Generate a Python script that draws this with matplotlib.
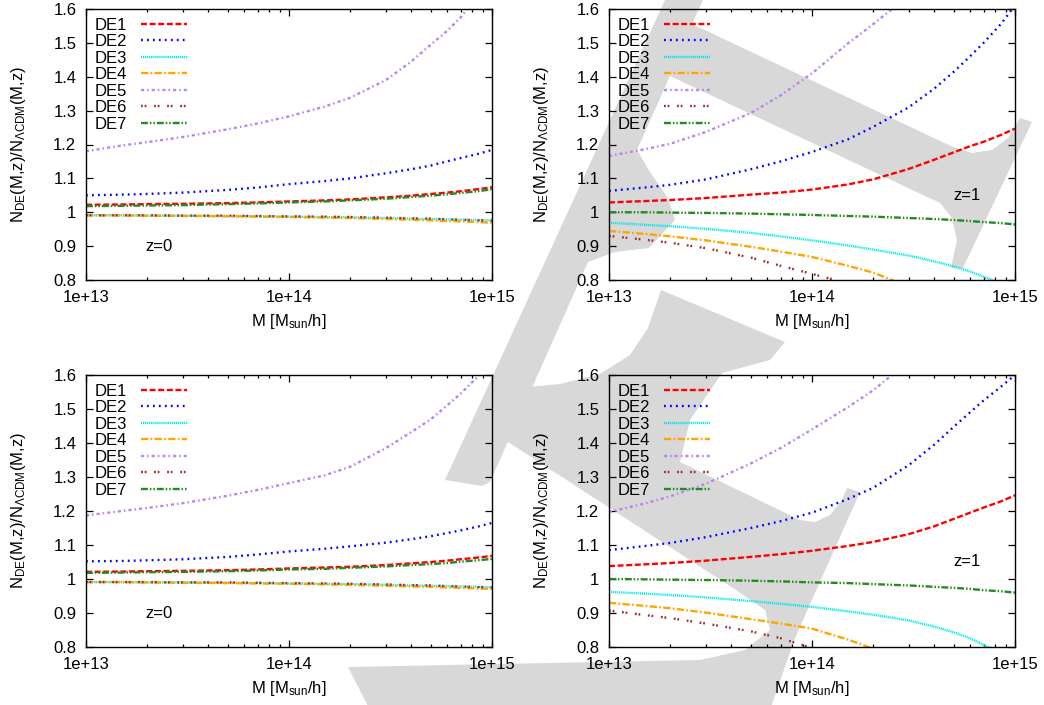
import matplotlib.pyplot as plt
from matplotlib.patches import Polygon
from matplotlib.ticker import LogLocator, NullFormatter

plt.rcParams['font.family'] = ['Liberation Sans', 'DejaVu Sans']
plt.rcParams['mathtext.fontset'] = 'custom'
plt.rcParams['mathtext.rm'] = 'Liberation Sans'
plt.rcParams['mathtext.it'] = 'Liberation Sans:italic'
plt.rcParams['lines.scale_dashes'] = False

# halo mass grid [M_sun/h]
mass = [1e13, 1.5e13, 2e13, 3e13, 5e13, 7e13, 1e14, 1.5e14, 2e14, 3e14,
        4e14, 5e14, 6e14, 7e14, 8.5e14, 1e15]
names = ['DE1', 'DE2', 'DE3', 'DE4', 'DE5', 'DE6', 'DE7']

# N_DE / N_LCDM at z=0 (upper panel), rows DE1..DE7
ratio_z0_a = [
    [1.022, 1.023, 1.024, 1.025, 1.027, 1.029, 1.032, 1.035, 1.038, 1.044, 1.049, 1.054, 1.058, 1.062, 1.068, 1.074],
    [1.050, 1.052, 1.054, 1.058, 1.066, 1.073, 1.083, 1.092, 1.100, 1.115, 1.127, 1.138, 1.150, 1.160, 1.172, 1.184],
    [0.991, 0.991, 0.990, 0.990, 0.989, 0.988, 0.987, 0.986, 0.985, 0.983, 0.981, 0.980, 0.979, 0.978, 0.977, 0.976],
    [0.991, 0.991, 0.990, 0.989, 0.988, 0.987, 0.986, 0.984, 0.983, 0.980, 0.978, 0.976, 0.974, 0.973, 0.971, 0.969],
    [1.180, 1.197, 1.207, 1.222, 1.245, 1.262, 1.283, 1.312, 1.338, 1.390, 1.445, 1.495, 1.535, 1.575, 1.640, 1.700],
    [0.991, 0.991, 0.991, 0.990, 0.990, 0.989, 0.988, 0.987, 0.986, 0.984, 0.982, 0.981, 0.979, 0.978, 0.976, 0.975],
    [1.018, 1.019, 1.020, 1.021, 1.024, 1.026, 1.029, 1.032, 1.035, 1.040, 1.045, 1.049, 1.053, 1.057, 1.062, 1.068],
]
# z=1 (upper panel)
ratio_z1_a = [
    [1.029, 1.033, 1.036, 1.042, 1.052, 1.058, 1.067, 1.082, 1.097, 1.128, 1.155, 1.177, 1.195, 1.208, 1.228, 1.247],
    [1.063, 1.073, 1.081, 1.097, 1.127, 1.150, 1.178, 1.215, 1.252, 1.310, 1.365, 1.415, 1.460, 1.500, 1.555, 1.610],
    [0.969, 0.963, 0.959, 0.951, 0.939, 0.929, 0.917, 0.902, 0.890, 0.872, 0.855, 0.840, 0.825, 0.810, 0.790, 0.770],
    [0.945, 0.936, 0.929, 0.917, 0.898, 0.884, 0.868, 0.842, 0.822, 0.780, 0.750, 0.725, 0.700, 0.680, 0.660, 0.640],
    [1.166, 1.186, 1.202, 1.237, 1.293, 1.345, 1.410, 1.498, 1.555, 1.640, 1.710, 1.770, 1.820, 1.860, 1.920, 1.970],
    [0.930, 0.919, 0.910, 0.894, 0.866, 0.842, 0.818, 0.790, 0.770, 0.740, 0.715, 0.695, 0.680, 0.665, 0.650, 0.635],
    [1.000, 1.000, 0.999, 0.998, 0.996, 0.994, 0.992, 0.989, 0.987, 0.983, 0.980, 0.977, 0.974, 0.971, 0.968, 0.964],
]
# z=0 (lower panel)
ratio_z0_b = [
    [1.021, 1.022, 1.023, 1.024, 1.026, 1.028, 1.031, 1.034, 1.036, 1.041, 1.046, 1.050, 1.054, 1.058, 1.063, 1.068],
    [1.052, 1.053, 1.055, 1.058, 1.065, 1.072, 1.081, 1.089, 1.096, 1.107, 1.117, 1.126, 1.135, 1.143, 1.154, 1.165],
    [0.991, 0.991, 0.990, 0.990, 0.989, 0.988, 0.987, 0.986, 0.985, 0.983, 0.981, 0.980, 0.979, 0.978, 0.977, 0.976],
    [0.991, 0.991, 0.990, 0.989, 0.988, 0.987, 0.986, 0.984, 0.983, 0.980, 0.978, 0.977, 0.975, 0.974, 0.972, 0.971],
    [1.187, 1.200, 1.209, 1.223, 1.245, 1.262, 1.282, 1.305, 1.330, 1.385, 1.432, 1.470, 1.510, 1.545, 1.595, 1.640],
    [0.991, 0.991, 0.991, 0.990, 0.990, 0.989, 0.988, 0.987, 0.986, 0.984, 0.982, 0.981, 0.979, 0.978, 0.976, 0.975],
    [1.018, 1.019, 1.020, 1.021, 1.023, 1.025, 1.028, 1.030, 1.033, 1.037, 1.041, 1.044, 1.047, 1.051, 1.055, 1.059],
]
# z=1 (lower panel)
ratio_z1_b = [
    [1.038, 1.043, 1.047, 1.054, 1.065, 1.073, 1.083, 1.097, 1.109, 1.132, 1.155, 1.177, 1.195, 1.210, 1.228, 1.246],
    [1.085, 1.097, 1.106, 1.123, 1.150, 1.170, 1.195, 1.235, 1.268, 1.335, 1.395, 1.448, 1.490, 1.525, 1.565, 1.600],
    [0.962, 0.957, 0.953, 0.946, 0.935, 0.927, 0.918, 0.905, 0.895, 0.878, 0.860, 0.843, 0.826, 0.806, 0.785, 0.765],
    [0.930, 0.921, 0.914, 0.901, 0.882, 0.869, 0.854, 0.822, 0.795, 0.760, 0.735, 0.715, 0.700, 0.685, 0.670, 0.655],
    [1.197, 1.222, 1.243, 1.280, 1.340, 1.385, 1.440, 1.505, 1.555, 1.640, 1.700, 1.750, 1.790, 1.830, 1.880, 1.920],
    [0.907, 0.894, 0.885, 0.869, 0.846, 0.826, 0.797, 0.770, 0.750, 0.720, 0.700, 0.685, 0.670, 0.660, 0.645, 0.630],
    [1.000, 0.999, 0.998, 0.997, 0.995, 0.993, 0.990, 0.988, 0.985, 0.981, 0.977, 0.974, 0.971, 0.967, 0.964, 0.960],
]

xticks = [1e13, 1e14, 1e15]
xtick_labels = ['1e+13', '1e+14', '1e+15']
yticks = [0.8, 0.9, 1.0, 1.1, 1.2, 1.3, 1.4, 1.5, 1.6]
ytick_labels = ['0.8', '0.9', '1', '1.1', '1.2', '1.3', '1.4', '1.5', '1.6']

colors = ['#ff0000', '#0000ff', '#00e8e8', '#ffa500', '#b883f0', '#a52a2a', '#228b22']
dashes = [
    (4.3, 1.9),
    (1.3, 3.0),
    (0.8, 0.6),
    (5.2, 1.7, 1.2, 1.7),
    (2.2, 2.2, 1.1, 2.2),
    (1.3, 1.3, 1.3, 5.5),
    (5.0, 1.4, 1.1, 1.4, 1.1, 1.4),
]

fig = plt.figure(figsize=(10.44, 7.05), dpi=100)

# light grey logo sitting behind the panels (pixel coordinates, y down)
logo = [
    [(665, 0), (703, 0), (692, 24), (953, 147), (972, 153), (992, 150), (1008, 138),
     (1020, 118), (1032, 122), (963, 268), (951, 268), (957, 240), (952, 218),
     (940, 203), (670, 76), (637, 150), (650, 172), (668, 198), (675, 220),
     (649, 248), (615, 252), (588, 262), (490, 482), (482, 486), (445, 480)],
    [(661, 290), (785, 342), (770, 360), (722, 373), (690, 420), (680, 462),
     (800, 520), (815, 522), (830, 515), (842, 500), (847, 488), (860, 492),
     (795, 638), (770, 710), (370, 710), (348, 667), (700, 660), (745, 650),
     (770, 630), (765, 610), (736, 590), (505, 440), (517, 388), (560, 384),
     (600, 374), (630, 355), (648, 328)],
]
bg = fig.add_axes([0, 0, 1, 1], zorder=0)
bg.set_xlim(0, 1044)
bg.set_ylim(705, 0)
bg.axis('off')
for pts in logo:
    bg.add_patch(Polygon(pts, closed=True, fc='#d8d8d8', ec='none'))

panels = [
    (ratio_z0_a, 'z=0', (86, 9, 492, 280), (2.3e13, 0.9)),
    (ratio_z1_a, 'z=1', (609, 9, 1015, 280), (5.8e14, 1.05)),
    (ratio_z0_b, 'z=0', (86, 375, 492, 647), (2.3e13, 0.9)),
    (ratio_z1_b, 'z=1', (609, 375, 1015, 647), (5.8e14, 1.05)),
]

fs = 12
for rows, ztxt, (x0, y0, x1, y1), zpos in panels:
    ax = fig.add_axes([x0 / 1044, 1 - y1 / 705, (x1 - x0) / 1044, (y1 - y0) / 705],
                      zorder=1)
    ax.set_facecolor('none')
    for vals, name, c, d in zip(rows, names, colors, dashes):
        ax.plot(mass, vals, color=c, lw=1.7, dashes=d, label=name)
    ax.set_xscale('log')
    ax.set_xlim(1e13, 1e15)
    ax.set_ylim(0.8, 1.6)
    ax.set_xticks(xticks)
    ax.set_xticklabels(xtick_labels)
    ax.xaxis.set_minor_locator(LogLocator(base=10, subs=range(2, 10)))
    ax.xaxis.set_minor_formatter(NullFormatter())
    ax.set_yticks(yticks)
    ax.set_yticklabels(ytick_labels)
    ax.tick_params(which='both', direction='in', top=True, right=True,
                   labelsize=fs, width=0.9)
    ax.tick_params(which='major', length=5, pad=7)
    ax.tick_params(which='minor', length=2.5)
    for sp in ax.spines.values():
        sp.set_linewidth(1.0)
    ax.set_xlabel('M [M$_{\\rm sun}$/h]', fontsize=fs, labelpad=5)
    ax.set_ylabel('N$_{\\rm DE}$(M,z)/N$_{\\rm \u039bCDM}$(M,z)', fontsize=fs, labelpad=18)
    ax.text(zpos[0], zpos[1], ztxt, fontsize=fs, ha='center', va='center')
    ax.legend(loc='upper left', bbox_to_anchor=(0.022, 0.968), frameon=False,
              markerfirst=False, fontsize=fs, handlelength=2.8, handletextpad=0.8,
              labelspacing=0.09, borderpad=0, borderaxespad=0)

fig.savefig('out.png', dpi=100)
